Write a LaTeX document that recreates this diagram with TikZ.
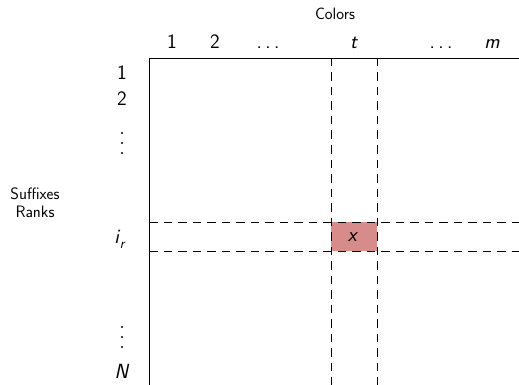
\documentclass[tikz,border=0pt]{standalone}
\usepackage{tikz}
\definecolor{cellred}{RGB}{216,139,139}
\begin{document}
\begin{tikzpicture}[x=1pt,y=-1pt,
  lab/.style={font=\sffamily\fontsize{20.5}{22}\selectfont, inner sep=0pt, anchor=base},
  small/.style={font=\sffamily\fontsize{16.5}{18}\selectfont, inner sep=0pt, align=center},
  gridline/.style={dash pattern=on 8.5pt off 6pt, line width=0.8pt},
  axis/.style={line width=0.9pt},
  vdot/.style={fill=black, inner sep=0pt, minimum size=2.2pt, circle}]
\useasboundingbox (0,0) rectangle (519,385);
% cell
\node[fill=cellred, minimum width=46pt, minimum height=29pt, inner sep=0pt] (cell) at (354,236.5) {};
\node[lab, anchor=center] (x) at (353,237) {\textit{x}};
% axes
\coordinate (O) at (149,58);
\coordinate (R) at (519,58);
\coordinate (B) at (149,385);
\draw[axis] (R) -- (O) -- (B);
% dashed lines
\coordinate (v1t) at (331,58); \coordinate (v1b) at (331,385);
\coordinate (v2t) at (377,58); \coordinate (v2b) at (377,385);
\coordinate (h1l) at (149,222); \coordinate (h1r) at (519,222);
\coordinate (h2l) at (149,251); \coordinate (h2r) at (519,251);
\draw[gridline] (v1t) -- (v1b);
\draw[gridline] (v2t) -- (v2b);
\draw[gridline] (h1l) -- (h1r);
\draw[gridline] (h2l) -- (h2r);
% column labels
\node[small] (colors) at (335,14) {Colors};
\node[lab] (c1) at (172,49) {1};
\node[lab] (c2) at (215,49) {2};
\node[lab] (c3) at (268,49) {.\,.\,.};
\node[lab] (ct) at (354,49) {\textit{t}};
\node[lab] (c4) at (441,49) {.\,.\,.};
\node[lab] (cm) at (492,49) {\textit{m}};
% row labels
\node[lab] (r1) at (122,80) {1};
\node[lab] (r2) at (122,106) {2};
\node[vdot] (d1a) at (122,133) {};
\node[vdot] (d1b) at (122,143) {};
\node[vdot] (d1c) at (122,153) {};
\node[lab] (ri) at (120,243) {\textit{i}\kern-0.5pt\raisebox{-0.25em}{\fontsize{14}{16}\selectfont\textit{r}}};
\node[vdot] (d2a) at (122,327) {};
\node[vdot] (d2b) at (122,337) {};
\node[vdot] (d2c) at (122,347) {};
\node[lab] (rN) at (122,378) {\textit{N}};
\node[small] (suf1) at (35,194) {Suffixes};
\node[small] (suf2) at (35,212) {Ranks};
\end{tikzpicture}
\end{document}
